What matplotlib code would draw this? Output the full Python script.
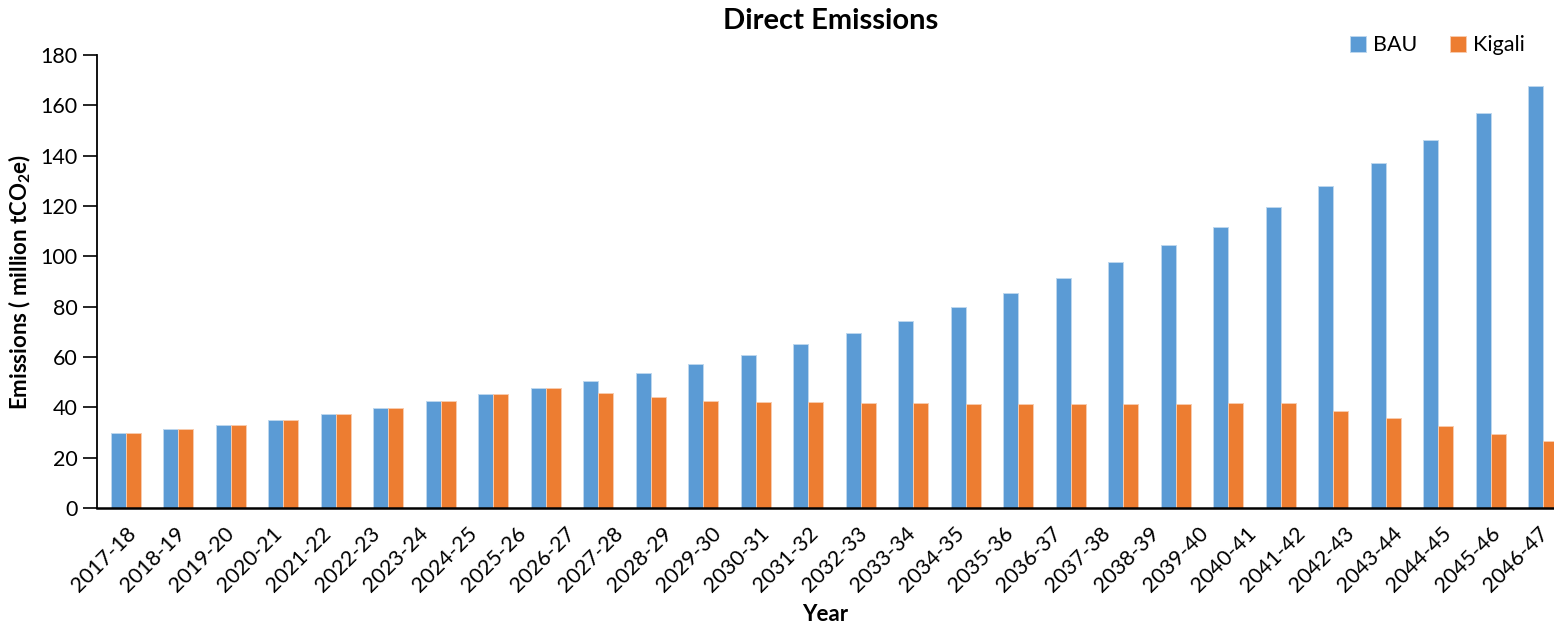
### DIRECT EMISSIONS BAR CHART ###

import numpy as np
import matplotlib.pyplot as plt

plt.rcParams['font.family'] = ['Lato', 'DejaVu Sans']

# year labels on the axis
years = ['2017-18', '2018-19', '2019-20', '2020-21', '2021-22', '2022-23',
         '2023-24', '2024-25', '2025-26', '2026-27', '2027-28', '2028-29',
         '2029-30', '2030-31', '2031-32', '2032-33', '2033-34', '2034-35',
         '2035-36', '2036-37', '2037-38', '2038-39', '2039-40', '2040-41',
         '2041-42', '2042-43', '2043-44', '2044-45', '2045-46', '2046-47']

# bar heights (million tCO2e), as many as are visible in the chart
bau = [30.0, 31.4, 33.1, 35.0, 37.5, 39.9, 42.5, 45.3, 47.7, 50.6,
       53.5, 57.1, 60.8, 65.2, 69.7, 74.5, 79.8, 85.5, 91.4, 97.7,
       104.6, 111.7, 119.7, 128.0, 137.1, 146.4, 156.8, 167.8]
kigali = [30.0, 31.4, 33.1, 35.0, 37.5, 39.9, 42.5, 45.3, 47.7, 45.6,
          44.1, 42.7, 42.3, 42.0, 41.8, 41.6, 41.5, 41.4, 41.4, 41.4,
          41.5, 41.6, 41.7, 38.7, 35.6, 32.6, 29.6, 26.7]

blue = '#5B9BD5'
orange = '#ED7D31'

fig = plt.figure(figsize=(15.54, 6.27), dpi=100)
ax = fig.add_axes([97/1554, 1-508/627, 1-97/1554, (508-55)/627])

x = np.arange(len(bau))
w = 0.286
ax.bar(x - w/2, bau, w, color=blue, edgecolor='#BDD7EE', linewidth=0.7, label='BAU')
ax.bar(x + w/2, kigali, w, color=orange, edgecolor='#F8CBAD', linewidth=0.7, label='Kigali')

ax.set_xlim(-0.547, -0.547 + 1457/52.5)
ax.set_ylim(0, 180)
ax.set_yticks(np.arange(0, 181, 20))
ax.tick_params(axis='y', labelsize=15.5, length=10, width=1.2, direction='out', pad=4)
ax.set_xticks([])
for s in ['top', 'right']:
    ax.spines[s].set_visible(False)
ax.spines['left'].set_linewidth(1.3)
ax.spines['bottom'].set_linewidth(1.8)
ax.spines['bottom'].set_color('black')
ax.set_ylabel('Emissions ( million tCO$_\\mathregular{2}$e)', fontsize=16,
              fontweight='bold', labelpad=5)

# year labels sit on their own evenly spaced scale
ax2 = ax.twiny()
ax2.set_xlim(-0.6, -0.6 + 1457/48.7)
ax2.xaxis.set_ticks_position('bottom')
ax2.xaxis.set_label_position('bottom')
ax2.set_xticks(np.arange(len(years)))
ax2.set_xticklabels(years, rotation=45, ha='right', rotation_mode='anchor', fontsize=15.5)
ax2.tick_params(axis='x', length=0, pad=11)
for s in ax2.spines.values():
    s.set_visible(False)
ax2.set_xlabel('Year', fontsize=16, fontweight='bold', labelpad=6)

fig.suptitle('Direct Emissions', fontsize=21, fontweight='bold', x=831/1554, y=0.987)

h, l = ax.get_legend_handles_labels()
fig.legend(h, l, loc='center right', bbox_to_anchor=(0.994, 0.928), ncol=2,
           frameon=False, fontsize=15.5, handlelength=0.75, handleheight=0.75,
           columnspacing=1.5, handletextpad=0.35)

fig.savefig('out.png', dpi=100)
